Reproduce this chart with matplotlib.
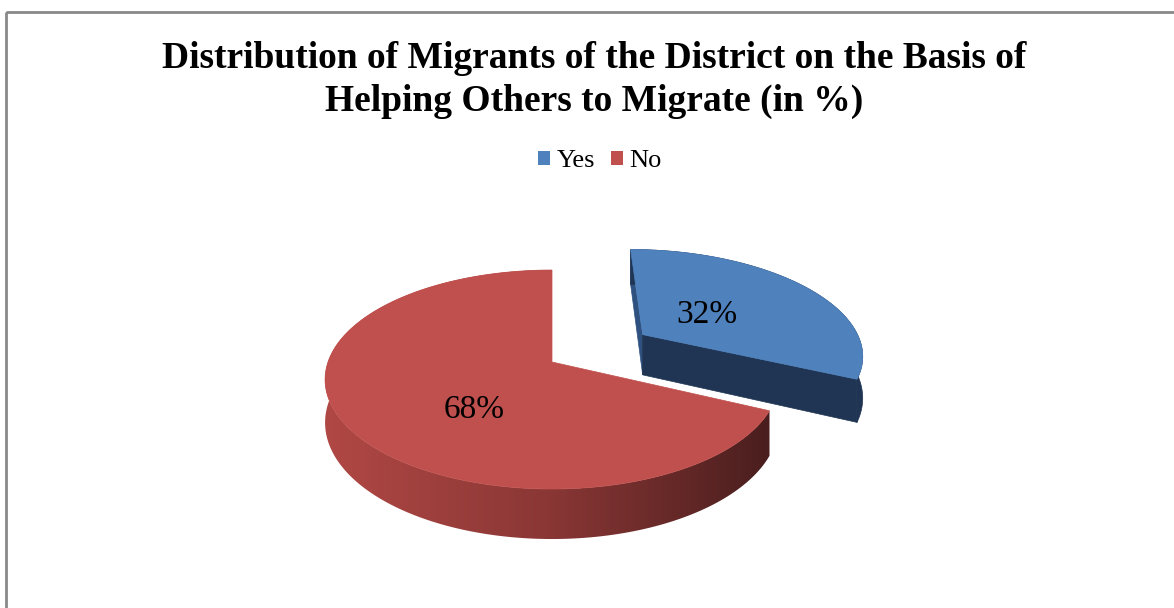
import numpy as np
import matplotlib
matplotlib.use("Agg")
import matplotlib.pyplot as plt
from matplotlib.patches import Polygon, Rectangle, Patch
from matplotlib.colors import LinearSegmentedColormap

plt.rcParams['font.family'] = ['Liberation Serif', 'DejaVu Serif']

labels = ['Yes', 'No']
shares = [32, 68]
top_colors = ['#4F81BD', '#C0504D']
face_colors = ['#1F3553', '#4A1E1E']
title = ('Distribution of Migrants of the District on the Basis of\n'
         'Helping Others to Migrate (in %)')

W, H = 1174, 608
fig = plt.figure(figsize=(W / 100, H / 100), dpi=100)
ax = fig.add_axes([0, 0, 1, 1])

# pie layout (pixels) and a light perspective
cx, cy = 552, 362
sx, ky = 224, 106.7
q = 0.16
thick = 42
explode = [0.5, 0.0]
label_at = [(0.38, 0.0), (0.40, -0.55)]   # radius, height inside slice


def proj(X, Y, Z=0.0):
    X = np.asarray(X, float)
    Y = np.asarray(Y, float)
    p = 1.0 / (1.0 + q * Y)
    return cx + sx * X * p, cy - (ky * Y + thick * Z) * p


def seen(nx, ny, mx, my):
    # is a face with normal (nx, ny) at (mx, my) turned to the camera
    vx, vy = -mx, -1.0 / q - my
    return nx * vx + ny * vy > 1e-6


cmap_side = LinearSegmentedColormap.from_list('side', ['#B04845', '#8A3735', '#4A1E1E'])

start = 90.0
for i, v in enumerate(shares):
    a0 = start
    a1 = start - v * 3.6
    start = a1
    mid = np.radians((a0 + a1) / 2)
    ox, oy = explode[i] * np.cos(mid), explode[i] * np.sin(mid)
    z = 2 + i * 3

    t = np.radians(np.linspace(a1, a0, 200))
    rx, ry = ox + np.cos(t), oy + np.sin(t)

    # radial cut faces
    for a, nd in ((a0, a0 + 90), (a1, a1 - 90)):
        ar = np.radians(a)
        nr = np.radians(nd)
        if not seen(np.cos(nr), np.sin(nr), ox + 0.5 * np.cos(ar), oy + 0.5 * np.sin(ar)):
            continue
        X = [ox, ox + np.cos(ar), ox + np.cos(ar), ox]
        Y = [oy, oy + np.sin(ar), oy + np.sin(ar), oy]
        Zs = [0, 0, -1, -1]
        px, py = zip(*[proj(X[k], Y[k], Zs[k]) for k in range(4)])
        col = face_colors[i] if a == a1 else '#2E5180'
        ax.add_patch(Polygon(np.column_stack([px, py]), closed=True,
                             facecolor=col, edgecolor=col, lw=0.5, zorder=z))

    # outer curved side
    tx, ty = proj(rx, ry, 0.0)
    bx, by = proj(rx, ry, -1.0)
    band = np.column_stack([np.r_[tx, bx[::-1]], np.r_[ty, by[::-1]]])
    if i == 1:
        side = Polygon(band, closed=True, facecolor='none', edgecolor='none', zorder=z)
        ax.add_patch(side)
        grad = np.linspace(0, 1, 256).reshape(1, -1)
        img = ax.imshow(grad, cmap=cmap_side, aspect='auto', zorder=z + 0.5,
                        extent=(band[:, 0].min(), band[:, 0].max(),
                                band[:, 1].max(), band[:, 1].min()))
        img.set_clip_path(side)
    else:
        ax.add_patch(Polygon(band, closed=True, facecolor=face_colors[i],
                             edgecolor=face_colors[i], lw=0.5, zorder=z))

    # top surface
    ax_, ay_ = proj(ox, oy)
    top = np.column_stack([np.r_[ax_, tx], np.r_[ay_, ty]])
    ax.add_patch(Polygon(top, closed=True, facecolor=top_colors[i],
                         edgecolor=top_colors[i], lw=0.5, zorder=z + 1))

    lr, lz = label_at[i]
    lx, ly = proj(ox + lr * np.cos(mid), oy + lr * np.sin(mid), lz)
    ax.text(lx, ly, f'{v}%', fontsize=24, ha='center', va='center',
            color='black', zorder=20)

ax.set_xlim(0, W)
ax.set_ylim(H, 0)
ax.axis('off')

# chart frame
ax.add_patch(Rectangle((6, 12), W, H, fill=False, edgecolor='#898989', lw=2, zorder=30))

ax.text(594, 80, title, fontsize=27, fontweight='bold', ha='center', va='center',
        linespacing=1.28)

handles = [Patch(facecolor=c, edgecolor='none') for c in top_colors]
fig.legend(handles, labels, loc='center', bbox_to_anchor=(600 / W, 1 - 161 / H),
           ncol=2, frameon=False, fontsize=19, handlelength=0.45, handleheight=0.45,
           handletextpad=0.25, columnspacing=0.6)

fig.savefig('out.png', dpi=100)
